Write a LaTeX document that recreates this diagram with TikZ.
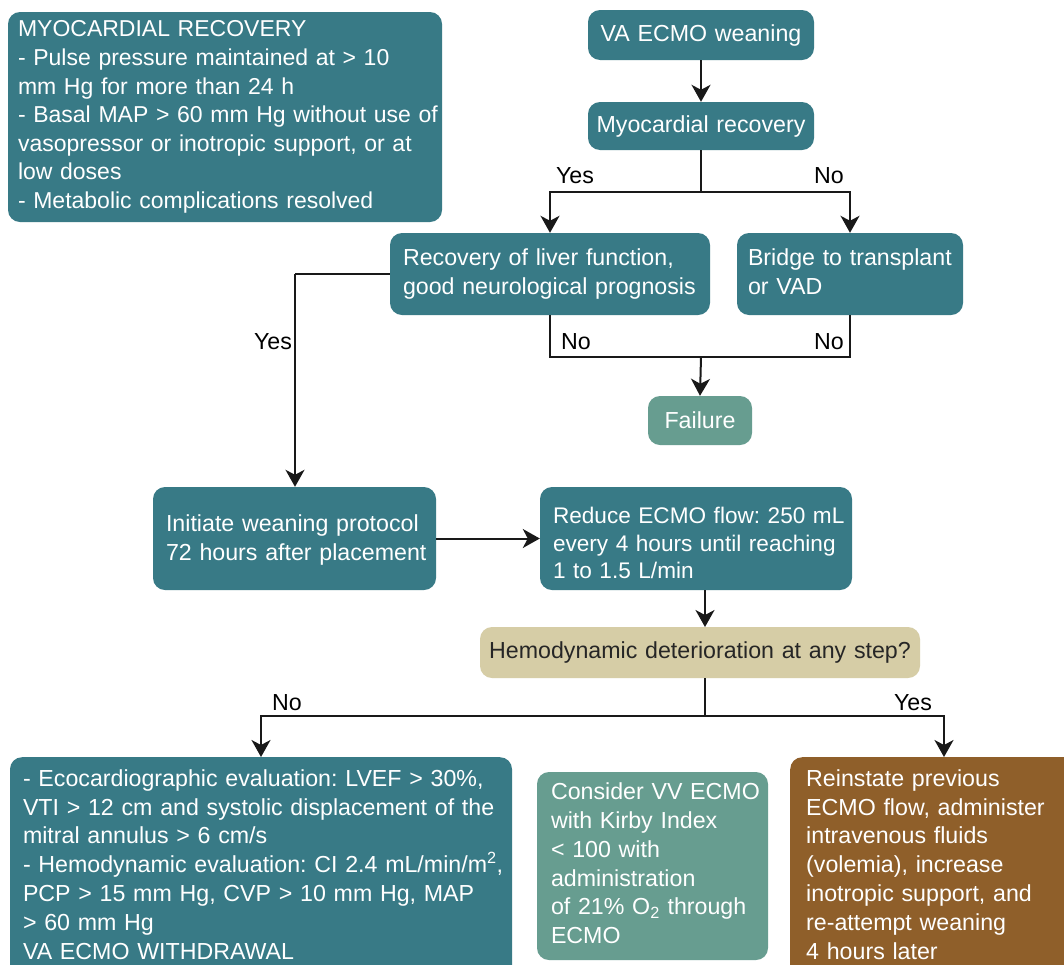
\documentclass[tikz,border=0pt]{standalone}
\usepackage{fontspec}
\setmainfont{Liberation Sans}
\usetikzlibrary{arrows.meta}
\definecolor{teal1}{RGB}{56,122,134}
\definecolor{teal2}{RGB}{103,157,144}
\definecolor{brown1}{RGB}{143,95,42}
\definecolor{beige1}{RGB}{214,205,166}
\newcommand\myfs{\fontsize{23.2}{28.8}\selectfont\frenchspacing}
\newcommand\smfs{\fontsize{22.6}{27.6}\selectfont\frenchspacing}
\newcommand\mylines[1]{\begin{tabular}{@{}l@{}}#1\end{tabular}}
\tikzset{
  box/.style={rounded corners=12pt, fill=teal1, text=white, font=\myfs, inner ysep=0pt, align=left},
  lbl/.style={font=\myfs, text=black, inner sep=0pt},
  conn/.style={line width=2pt, draw=black!90},
  arr/.style={conn, -{Stealth[length=17pt,width=19pt,inset=5pt]}}
}
\begin{document}
\begin{tikzpicture}[x=1pt,y=-1pt]
\clip (0,0) rectangle (1064,964);
\fill[white] (0,0) rectangle (1064,964);

\node[box, font=\fontsize{23}{28.6}\selectfont\frenchspacing, minimum height=210pt, text width=414pt, inner xsep=10pt] (crit) at (225,117)
 {\mylines{MYOCARDIAL RECOVERY\\- Pulse pressure maintained at > 10\\mm Hg for more than 24 h\\- Basal MAP > 60 mm Hg without use of\\vasopressor or inotropic support, or at\\low doses\\- Metabolic complications resolved}};

\node[box, minimum height=50pt, text width=226pt, inner xsep=0pt, align=center] (wean) at (701,35) {VA ECMO weaning};
\node[box, minimum height=48pt, text width=226pt, inner xsep=0pt, align=center] (myo) at (701,126) {Myocardial recovery};

\node[box, minimum height=82pt, text width=294pt, inner xsep=13pt] (liver) at (550,274) {\mylines{Recovery of liver function,\\good neurological prognosis}};
\node[box, minimum height=82pt, text width=204pt, inner xsep=11pt] (bridge) at (850,274) {\mylines{Bridge to transplant\\or VAD}};

\node[box, fill=teal2, minimum height=49pt, text width=104pt, inner xsep=0pt, align=center] (fail) at (700,420.5) {Failure};

\node[box, minimum height=103pt, text width=257pt, inner xsep=13pt] (init) at (294.5,538.5) {\mylines{\rule{0pt}{24pt}Initiate weaning protocol\\72 hours after placement}};
\node[box, font=\smfs, minimum height=103pt, text width=286pt, inner xsep=13pt] (reduce) at (696,538.5) {\mylines{\rule{0pt}{34pt}Reduce ECMO flow: 250 mL\\every 4 hours until reaching\\1 to 1.5 L/min}};

\node[box, fill=beige1, text=black!85, minimum height=51pt, text width=440pt, inner xsep=0pt, align=center] (hemo) at (700,652.5) {Hemodynamic deterioration at any step?};

\node[box, text width=476pt, inner xsep=13pt, inner ysep=9pt, anchor=north] (eval) at (261,757)
 {\mylines{- Ecocardiographic evaluation: LVEF > 30\%,\\VTI > 12 cm and systolic displacement of the\\mitral annulus > 6 cm/s\\- Hemodynamic evaluation: CI 2.4 mL/min/m\textsuperscript{2},\\PCP > 15 mm Hg, CVP > 10 mm Hg, MAP\\> 60 mm Hg\\VA ECMO WITHDRAWAL}};

\node[box, fill=teal2, minimum height=188pt, text width=203pt, inner xsep=14pt] (cons) at (652.5,866)
 {\mylines{Consider VV ECMO\\with Kirby Index\\< 100 with\\administration\\of 21\% O\textsubscript{2} through\\ECMO}};

\node[box, fill=brown1, text width=268pt, inner xsep=16pt, inner ysep=9pt, anchor=north west] (rein) at (790,757)
 {\mylines{Reinstate previous\\ECMO flow, administer\\intravenous fluids\\(volemia), increase\\inotropic support, and\\re-attempt weaning\\4 hours later}};

% connectors
\draw[arr] (wean) -- (myo);
\coordinate (s1) at (701,192);
\draw[conn] (myo.south) -- (s1);
\draw[arr] (s1) -| (liver.north);
\draw[arr] (s1) -| (bridge.north);
\node[lbl] at (575,176) {Yes};
\node[lbl] at (829,176) {No};

\coordinate (s2) at (701,357);
\draw[conn] (liver.south) |- (s2) -| (bridge.south);
\draw[arr] (s2) -- (fail.north);
\node[lbl] at (576,342) {No};
\node[lbl] at (829,342) {No};

\coordinate (y1) at (295,274);
\draw[conn] (liver.west) -- (y1);
\draw[arr] (y1) -- (init.north -| y1);
\node[lbl] at (273,342) {Yes};

\draw[arr] (init.east) -- (reduce.west);
\coordinate (r1) at (705,590);
\coordinate (h1) at (705,627);
\draw[arr] (r1) -- (h1);

\coordinate (h2) at (705,678);
\coordinate (s3) at (705,716);
\draw[conn] (h2) -- (s3);
\draw[arr] (s3) -| (eval.north);
\coordinate (rt) at (944,757);
\draw[arr] (s3) -| (rt);
\node[lbl] at (287,703) {No};
\node[lbl] at (913,703) {Yes};
\end{tikzpicture}
\end{document}
